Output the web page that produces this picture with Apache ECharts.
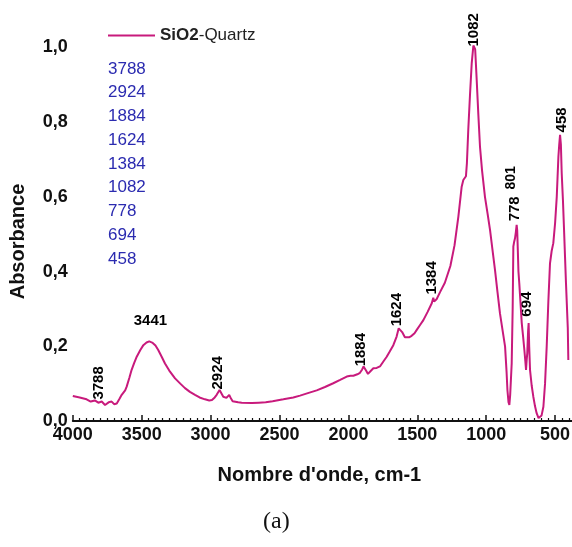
<!DOCTYPE html>
<html><head><meta charset="utf-8">
<script src="https://cdn.jsdelivr.net/npm/echarts@6/dist/echarts.min.js"></script>
<style>html,body{margin:0;padding:0;background:#fff}#c{width:572px;height:547px}</style>
</head><body><div id="c"></div>
<script>
// Spectrum (wavenumber cm-1, absorbance)
const wavenumber = [4000,3950,3900,3870,3840,3815,3790,3766,3740,3718,3700,3681,3660,3645,3620,3609,3590,3573,3555,3536,3510,3488,3465,3445,3420,3400,3380,3355,3331,3300,3258,3220,3186,3150,3113,3080,3041,3010,2990,2970,2956,2935,2924,2908,2885,2865,2852,2840,2800,2774,2700,2650,2600,2550,2472,2400,2351,2300,2230,2170,2110,2060,2012,1985,1964,1935,1916,1900,1890,1884,1872,1858,1840,1819,1795,1771,1745,1722,1700,1674,1650,1635,1624,1610,1590,1577,1560,1541,1520,1504,1480,1456,1425,1395,1384,1378,1360,1335,1300,1260,1230,1202,1178,1166,1155,1147,1140,1130,1118,1105,1093,1086,1080,1069,1057,1045,1030,1009,990,972,955,936,918,900,880,863,852,846,838,832,826,815,808,803,797,791,785,779,775,770,766,760,750,742,732,723,716,711,706,702,696,692,688,682,670,658,646,634,620,610,598,585,573,561,549,537,525,513,500,488,476,470,464,458,452,443,435,428,421,416,412,408,404];
const absorbance = [0.067,0.063,0.058,0.052,0.055,0.049,0.052,0.043,0.050,0.052,0.045,0.047,0.060,0.070,0.082,0.092,0.115,0.137,0.155,0.172,0.190,0.203,0.210,0.213,0.209,0.202,0.190,0.172,0.154,0.135,0.114,0.100,0.088,0.078,0.070,0.063,0.058,0.055,0.056,0.063,0.070,0.083,0.078,0.065,0.062,0.070,0.060,0.053,0.050,0.049,0.048,0.049,0.050,0.053,0.058,0.063,0.068,0.074,0.082,0.091,0.101,0.110,0.119,0.121,0.121,0.125,0.129,0.138,0.146,0.145,0.135,0.126,0.133,0.141,0.142,0.146,0.160,0.172,0.186,0.203,0.226,0.248,0.250,0.238,0.224,0.220,0.224,0.228,0.235,0.244,0.257,0.270,0.292,0.315,0.330,0.320,0.326,0.345,0.370,0.415,0.470,0.547,0.627,0.645,0.650,0.655,0.690,0.780,0.870,0.958,1.005,1.010,0.995,0.913,0.820,0.734,0.670,0.600,0.555,0.511,0.460,0.404,0.345,0.288,0.240,0.199,0.130,0.083,0.050,0.043,0.070,0.154,0.300,0.467,0.480,0.489,0.505,0.525,0.510,0.450,0.400,0.369,0.310,0.262,0.225,0.190,0.160,0.137,0.165,0.181,0.240,0.262,0.200,0.137,0.095,0.065,0.040,0.021,0.008,0.003,0.015,0.038,0.100,0.199,0.320,0.422,0.455,0.476,0.530,0.600,0.708,0.740,0.766,0.740,0.663,0.590,0.511,0.440,0.369,0.370,0.369,0.250,0.163];

// Peak annotations (label text, anchor wavenumber, anchor absorbance)
const peakNames = ['3788','2924','1884','1624','1384','1082','778','801','694','458'];
const peakX = [3810,2946,1909,1647,1393,1089,791,813,704,450];
const peakY = [0.056,0.083,0.145,0.252,0.337,1.001,0.533,0.618,0.278,0.771];
const bandName = '3441';
const bandX = 3433;
const bandY = 0.268;

// Band list shown under the legend
const bandList = ['3788','2924','1884','1624','1384','1082','778','694','458'];

const seriesName = 'SiO2-Quartz';
const xTitle = "Nombre d'onde, cm-1";
const yTitle = 'Absorbance';
const caption = '(a)';

const lineData = wavenumber.map((w, i) => [w, absorbance[i]]);
const peakData = peakNames.map((n, i) => ({
  name: n, value: [peakX[i], peakY[i]],
  label: { fontSize: n === '801' ? 14 : 15 }
}));
peakData.push({
  name: bandName, value: [bandX, bandY],
  label: { rotate: 0, align: 'center', verticalAlign: 'middle' }
});

const font = 'Liberation Sans, Arial, sans-serif';
const chart = echarts.init(document.getElementById('c'), null, { renderer: 'canvas' });
chart.setOption({
  animation: false,
  backgroundColor: '#fff',
  title: [{
    text: bandList.join('\n'), left: 103, top: 52,
    textStyle: { fontFamily: font, fontSize: 17, fontWeight: 'normal', color: '#2b2bb0', lineHeight: 23.75 }
  }, {
    text: caption, left: 258, top: 505,
    textStyle: { fontFamily: 'Liberation Serif, Times New Roman, serif', fontSize: 24, fontWeight: 'normal', color: '#111' }
  }],
  legend: {
    data: [seriesName], left: 103, top: 22, icon: 'rect', itemWidth: 47, itemHeight: 2,
    formatter: () => '{b|SiO2}-Quartz',
    textStyle: { fontFamily: font, fontSize: 17, color: '#222',
      rich: { b: { fontFamily: font, fontSize: 17, fontWeight: 'bold', color: '#222' } } }
  },
  grid: { left: 72.8, right: -52, top: 10, bottom: 126, outerBoundsMode: 'none', containLabel: false },
  xAxis: {
    type: 'value', inverse: true, min: 0, max: 4000, interval: 500,
    name: xTitle, nameLocation: 'middle', nameGap: 44,
    nameTextStyle: { fontFamily: font, fontSize: 20, fontWeight: 'bold', color: '#111', padding: [0, 58, 0, 0] },
    axisLine: { lineStyle: { color: '#111', width: 2 } },
    axisTick: { inside: true, length: 6, lineStyle: { color: '#111', width: 1.5 } },
    minorTick: { show: true, splitNumber: 10, length: 3, lineStyle: { color: '#111', width: 1.2 } },
    axisLabel: { fontFamily: font, fontSize: 18, fontWeight: 'bold', color: '#111', margin: 5,
      formatter: v => String(v) },
    splitLine: { show: false }
  },
  yAxis: {
    type: 'value', min: 0, max: 1.1, interval: 0.2,
    name: yTitle, nameLocation: 'middle', nameGap: 44,
    nameTextStyle: { fontFamily: font, fontSize: 20, fontWeight: 'bold', color: '#111', padding: [0, 52, 0, 0] },
    axisLine: { lineStyle: { color: '#111', width: 2 } },
    axisTick: { inside: true, length: 6, lineStyle: { color: '#111', width: 1.5 } },
    minorTick: { show: true, splitNumber: 2, length: 4, lineStyle: { color: '#111', width: 1.5 } },
    axisLabel: { fontFamily: font, fontSize: 18, fontWeight: 'bold', color: '#111', margin: 5, showMaxLabel: false,
      formatter: v => v.toFixed(1).replace('.', ',') },
    splitLine: { show: false }
  },
  series: [{
    name: seriesName, type: 'line', data: lineData, showSymbol: false, symbol: 'none',
    lineStyle: { color: '#c81a7c', width: 2 }, itemStyle: { color: '#c81a7c' }
  }, {
    name: 'peaks', type: 'scatter', data: peakData, symbolSize: 1,
    itemStyle: { color: 'rgba(0,0,0,0)' }, silent: true,
    label: { show: true, formatter: p => p.name, position: [0, 0], rotate: 90, align: 'left', verticalAlign: 'middle',
      fontFamily: font, fontSize: 15, fontWeight: 'bold', color: '#000', opacity: 1 }
  }]
});
</script></body></html>
